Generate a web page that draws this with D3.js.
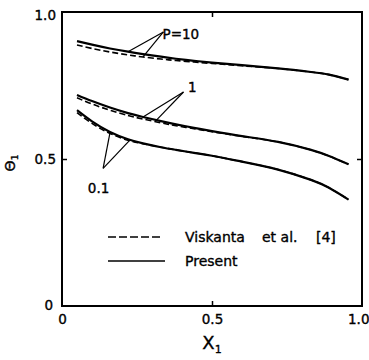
<!DOCTYPE html>
<html>
<head>
<meta charset="utf-8">
<script src="https://cdn.jsdelivr.net/npm/d3@7"></script>
<style>
  body { margin: 0; background: #fff; }
  text { font-family: "DejaVu Sans", sans-serif; fill: #000; stroke: #000; stroke-width: 0.35px; }
</style>
</head>
<body>
<div id="chart"></div>
<script>
// x positions shared by all curves
const xs = [0.05, 0.1, 0.16, 0.22, 0.27, 0.33, 0.38, 0.44, 0.5, 0.6, 0.72, 0.83, 0.89, 0.955];

// present (solid) and Viskanta et al. (dashed), for P = 10, 1, 0.1
const p10Present = [0.901, 0.889, 0.876, 0.865, 0.857, 0.848, 0.841, 0.834, 0.828, 0.819, 0.808, 0.796, 0.787, 0.770];
const p10Viskanta = [0.888, 0.876, 0.864, 0.854, 0.847, 0.840, 0.835, 0.830, 0.825, 0.817, 0.808, 0.796, 0.787, 0.770];
const p1Present = [0.718, 0.697, 0.675, 0.656, 0.643, 0.629, 0.618, 0.606, 0.595, 0.578, 0.558, 0.531, 0.510, 0.482];
const p1Viskanta = [0.708, 0.687, 0.666, 0.648, 0.636, 0.623, 0.613, 0.603, 0.593, 0.577, 0.558, 0.531, 0.510, 0.482];
const p01Present = [0.666, 0.628, 0.592, 0.567, 0.553, 0.540, 0.531, 0.521, 0.511, 0.491, 0.464, 0.429, 0.402, 0.362];
const p01Viskanta = [0.658, 0.621, 0.587, 0.564, 0.552, 0.540, 0.531, 0.521, 0.511, 0.491, 0.464, 0.429, 0.402, 0.362];

const xTicks = [0, 0.5, 1];
const yTicks = [0, 0.5, 1];
const xTickLabels = ['0', '0.5', '1.0'];
const yTickLabels = ['0', '0.5', '1.0'];

const width = 369;
const height = 360;
const margin = { top: 12, right: 7, bottom: 54, left: 62 };

const svg = d3.select('#chart').append('svg')
  .attr('width', width)
  .attr('height', height);

const x = d3.scaleLinear().domain([0, 1]).range([margin.left, width - margin.right]);
const y = d3.scaleLinear().domain([0, 1]).range([height - margin.bottom, margin.top]);

const line = d3.line()
  .x(d => x(d[0]))
  .y(d => y(d[1]))
  .curve(d3.curveNatural);

const series = [
  { values: p10Viskanta, dashed: true },
  { values: p10Present, dashed: false },
  { values: p1Viskanta, dashed: true },
  { values: p1Present, dashed: false },
  { values: p01Viskanta, dashed: true },
  { values: p01Present, dashed: false }
];

svg.append('g').attr('class', 'curves')
  .selectAll('path')
  .data(series)
  .enter()
  .append('path')
  .attr('d', d => line(xs.map((v, i) => [v, d.values[i]])))
  .attr('fill', 'none')
  .attr('stroke', '#000')
  .attr('stroke-width', d => d.dashed ? 1.6 : 2.2)
  .attr('stroke-dasharray', d => d.dashed ? '6,3' : null);

// frame
svg.append('rect')
  .attr('x', x(0))
  .attr('y', y(1))
  .attr('width', x(1) - x(0))
  .attr('height', y(0) - y(1))
  .attr('fill', 'none')
  .attr('stroke', '#000')
  .attr('stroke-width', 2);

// axes with inward ticks
const styleAxis = g => {
  g.select('.domain').remove();
  g.selectAll('.tick line').attr('stroke', '#000').attr('stroke-width', 1.5);
  g.selectAll('.tick text').style('font-size', '13.5px').style('font-family', '"DejaVu Sans", sans-serif');
};

svg.append('g')
  .attr('transform', `translate(0,${y(0)})`)
  .call(d3.axisBottom(x).tickValues(xTicks).tickSize(-5).tickPadding(8)
    .tickFormat((d, i) => xTickLabels[i]))
  .call(styleAxis)
  .call(g => g.selectAll('.tick line').filter(d => d !== 0.5).remove())
  .call(g => g.selectAll('.tick').filter(d => d === 1).select('text')
    .attr('text-anchor', 'end').attr('dx', 7));

svg.append('g')
  .attr('transform', `translate(0,${y(1)})`)
  .call(d3.axisTop(x).tickValues([0.5]).tickSize(-5).tickFormat(''))
  .call(styleAxis);

svg.append('g')
  .attr('transform', `translate(${x(0)},0)`)
  .call(d3.axisLeft(y).tickValues(yTicks).tickSize(-5).tickPadding(6)
    .tickFormat((d, i) => yTickLabels[i]))
  .call(styleAxis)
  .call(g => g.selectAll('.tick line').filter(d => d !== 0.5).remove())
  .call(g => g.selectAll('.tick').filter(d => d === 1).select('text').attr('dy', '0.55em'))
  .call(g => g.selectAll('.tick').filter(d => d === 0).select('text').attr('dx', '-3').attr('dy', '0.25em'));

svg.append('g')
  .attr('transform', `translate(${x(1)},0)`)
  .call(d3.axisRight(y).tickValues([0.5]).tickSize(-5).tickFormat(''))
  .call(styleAxis);

// axis titles
const xTitle = svg.append('text')
  .attr('x', x(0.5))
  .attr('y', height - 11)
  .attr('text-anchor', 'middle')
  .style('font-size', '18px');
xTitle.append('tspan').text('X');
xTitle.append('tspan').attr('dy', 4).style('font-size', '11px').text('1');

const yTitle = svg.append('text')
  .attr('transform', `translate(15,${y(0.5) + 4}) rotate(-90)`)
  .attr('text-anchor', 'middle')
  .style('font-size', '14px');
yTitle.append('tspan').text('Θ');
yTitle.append('tspan').attr('dy', 3).style('font-size', '9px').text('1');

// curve labels with pointer lines
const labels = [
  { text: 'P=10', at: [0.335, 0.925], tip: [0.338, 0.932], targets: [[0.22, 0.865], [0.27, 0.847]] },
  { text: '1', at: [0.42, 0.745], tip: [0.405, 0.728], targets: [[0.27, 0.643], [0.31, 0.627]] },
  { text: '0.1', at: [0.122, 0.4], tip: [0.137, 0.468], targets: [[0.16, 0.59], [0.227, 0.565]] }
];

labels.forEach(l => {
  l.targets.forEach(t => {
    svg.append('line')
      .attr('x1', x(l.tip[0])).attr('y1', y(l.tip[1]))
      .attr('x2', x(t[0])).attr('y2', y(t[1]))
      .attr('stroke', '#000')
      .attr('stroke-width', 1.2);
  });
  svg.append('text')
    .attr('x', x(l.at[0]))
    .attr('y', y(l.at[1]))
    .attr('text-anchor', l.text === '0.1' ? 'middle' : 'start')
    .attr('dy', '0.35em')
    .style('font-size', '13.5px')
    .text(l.text);
});

// legend
const legend = svg.append('g');
legend.append('line')
  .attr('x1', 108).attr('x2', 163).attr('y1', 237).attr('y2', 237)
  .attr('stroke', '#000').attr('stroke-width', 1.6).attr('stroke-dasharray', '8,3');
legend.append('line')
  .attr('x1', 108).attr('x2', 165).attr('y1', 261).attr('y2', 261)
  .attr('stroke', '#000').attr('stroke-width', 1.6);
const vis = legend.append('text').attr('y', 242).style('font-size', '14px');
vis.append('tspan').attr('x', 185).text('Viskanta');
vis.append('tspan').attr('x', 262).text('et al.');
vis.append('tspan').attr('x', 316).text('[4]');
legend.append('text').attr('x', 185).attr('y', 266).style('font-size', '14px').text('Present');
</script>
</body>
</html>
